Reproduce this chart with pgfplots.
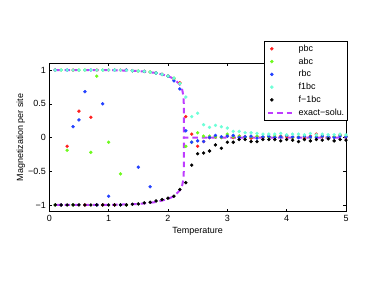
\documentclass[border=0pt]{standalone}
\usepackage{fontspec}
\setmainfont{Liberation Sans}
\usepackage{pgfplots}
\pgfplotsset{compat=1.18}
\definecolor{cpbc}{RGB}{255,30,30}
\definecolor{cabc}{RGB}{110,250,30}
\definecolor{crbc}{RGB}{35,65,255}
\definecolor{cfp}{RGB}{110,255,215}
\definecolor{cexact}{RGB}{190,60,255}
\newcommand{\fs}{\fontsize{9}{10.5}\selectfont}
\pgfplotsset{
  scat/.style={only marks, mark=*, mark size=1.5bp, color=#1,
    mark options={draw=#1, fill=#1},
    legend image code/.code={\path[draw=none,fill=none] (0cm,0cm) -- (1.06cm,0cm);
      \fill[#1] (0.22cm,0cm) circle (1.5bp);}},
  exact/.style={cexact, no marks, sharp plot, line width=2bp, dash pattern=on 5.5bp off 4bp,
    legend image code/.code={\path[draw=none,fill=none] (0cm,0cm) -- (1.06cm,0cm);
      \draw[cexact, line width=2bp, dash pattern=on 5.5bp off 4bp] (0.08cm,0cm) -- (1.06cm,0cm);}},
}
\begin{document}
\begin{tikzpicture}
\path[use as bounding box] (-49.3bp,-75.3bp) rectangle (332.7bp,211.7bp);
\begin{axis}[
  at={(0,0)}, anchor=south west,
  scale only axis, width=296.7bp, height=148.4bp,
  xmin=0, xmax=5, ymin=-1.1, ymax=1.1,
  xtick={0,1,2,3,4,5},
  ytick={-1,-0.5,0,0.5,1},
  yticklabels={−1,−0.5,0,0.5,1},
  tick align=inside, major tick length=3bp,
  tick style={black, line width=0.4pt},
  axis line style={black, line width=0.6pt},
  /pgf/number format/assume math mode=true,
  tick label style={font=\fs},
  label style={font=\fs},
  xlabel={Temperature},
  ylabel={Magnetization per site},
  xlabel style={at={(axis description cs:0.5,-0.1334)}, anchor=center},
  ylabel style={at={(axis description cs:-0.096,0.5)}, anchor=center},
  legend style={font=\fs, at={(1.005,1.15)}, anchor=north east,
    draw=black, line width=0.5pt, fill=white, row sep=0.8bp,
    inner xsep=1bp, inner ysep=1.5bp},
  legend cell align=left,
]
% pbc
\addplot[scat=cpbc] table {
0.1 1
0.2 -1
0.3 -0.13
0.4 1
0.5 0.39
0.6 -1
0.7 0.30
0.8 1
0.9 -1
1.0 1
1.1 -1
1.2 1
1.3 1
1.4 0.99
1.5 0.985
1.6 0.98
1.7 0.97
1.8 0.955
1.9 0.935
2.0 0.91
2.1 0.87
2.2 0.81
2.3 0.31
2.4 0.05
2.5 -0.13
2.6 -0.06
2.7 0.00
2.8 0.01
2.9 0.00
3.0 0.02
3.1 0.00
3.2 0.02
3.3 0.01
3.4 -0.01
3.5 0.01
3.6 0.00
3.7 0.01
3.8 0.00
3.9 0.02
4.0 0.01
4.1 0.00
4.2 0.01
4.3 -0.01
4.4 0.02
4.5 0.05
4.6 0.01
4.7 0.00
4.8 0.01
4.9 0.04
5.0 0.01
};
\addlegendentry{pbc}
% abc
\addplot[scat=cabc] table {
0.1 -1
0.2 1
0.3 -0.19
0.4 -1
0.5 1
0.6 1
0.7 -0.22
0.8 0.91
0.9 1
1.0 -0.07
1.1 1
1.2 -0.54
1.3 -1
1.4 0.99
1.5 0.985
1.6 0.98
1.7 0.97
1.8 0.955
1.9 0.935
2.0 0.91
2.1 0.88
2.2 0.80
2.3 -0.13
2.4 -0.07
2.5 0.07
2.6 0.02
2.7 0.02
2.8 0.01
2.9 0.00
3.0 0.05
3.1 0.01
3.2 0.02
3.3 0.00
3.4 0.01
3.5 0.02
3.6 0.01
3.7 0.00
3.8 0.02
3.9 0.01
4.0 0.03
4.1 0.00
4.2 0.01
4.3 0.02
4.4 0.00
4.5 0.01
4.6 0.02
4.7 0.00
4.8 0.01
4.9 0.03
5.0 0.02
};
\addlegendentry{abc}
% rbc
\addplot[scat=crbc] table {
0.1 1
0.2 -1
0.3 1
0.4 0.16
0.5 0.26
0.6 0.68
0.7 1
0.8 -1
0.9 0.50
1.0 -0.87
1.1 1
1.2 -1
1.3 1
1.4 0.99
1.5 -0.44
1.6 0.98
1.7 -0.73
1.8 0.955
1.9 0.935
2.0 0.91
2.1 0.84
2.2 0.72
2.3 0.10
2.4 -0.07
2.5 -0.05
2.6 -0.06
2.7 0.00
2.8 0.03
2.9 0.01
3.0 0.02
3.1 0.03
3.2 0.00
3.3 0.01
3.4 0.02
3.5 -0.01
3.6 0.01
3.7 0.02
3.8 0.00
3.9 0.01
4.0 0.03
4.1 0.01
4.2 0.00
4.3 0.02
4.4 0.01
4.5 0.00
4.6 0.02
4.7 0.01
4.8 0.00
4.9 0.02
5.0 0.01
};
\addlegendentry{rbc}
% f1bc
\addplot[scat=cfp] table {
0.1 1
0.2 1
0.3 1
0.4 1
0.5 1
0.6 1
0.7 1
0.8 1
0.9 1
1.0 1
1.1 1
1.2 1
1.3 0.995
1.4 0.99
1.5 0.985
1.6 0.98
1.7 0.97
1.8 0.955
1.9 0.935
2.0 0.91
2.1 0.88
2.2 0.80
2.3 0.60
2.4 0.31
2.5 0.36
2.6 0.19
2.7 0.15
2.8 0.18
2.9 0.16
3.0 0.14
3.1 0.09
3.2 0.09
3.3 0.07
3.4 0.07
3.5 0.06
3.6 0.05
3.7 0.05
3.8 0.05
3.9 0.06
4.0 0.04
4.1 0.05
4.2 0.05
4.3 0.04
4.4 0.06
4.5 0.04
4.6 0.05
4.7 0.04
4.8 0.04
4.9 0.05
5.0 0.04
};
\addlegendentry{f1bc}
% f-1bc
\addplot[scat=black] table {
0.1 -1
0.2 -1
0.3 -1
0.4 -1
0.5 -1
0.6 -1
0.7 -1
0.8 -1
0.9 -1
1.0 -1
1.1 -1
1.2 -1
1.3 -1
1.4 -0.99
1.5 -0.985
1.6 -0.97
1.7 -0.96
1.8 -0.94
1.9 -0.92
2.0 -0.90
2.1 -0.87
2.2 -0.77
2.3 -0.67
2.4 -0.41
2.5 -0.24
2.6 -0.23
2.7 -0.20
2.8 -0.11
2.9 -0.16
3.0 -0.07
3.1 -0.07
3.2 -0.03
3.3 -0.03
3.4 -0.06
3.5 -0.06
3.6 -0.03
3.7 -0.03
3.8 -0.03
3.9 -0.05
4.0 -0.03
4.1 -0.04
4.2 -0.06
4.3 -0.03
4.4 -0.05
4.5 -0.03
4.6 -0.04
4.7 -0.02
4.8 -0.05
4.9 -0.03
5.0 -0.04
};
\addlegendentry{f−1bc}
% exact solution (Onsager), upper branch and zero line
\addplot[exact] table {
0.1 1
1.0 0.9993
1.5 0.9865
1.8 0.9569
2.0 0.9113
2.1 0.8688
2.2 0.7848
2.24 0.7073
2.26 0.6134
2.268 0.474
2.269 0
5.0 0
};
\addlegendentry{exact−solu.}
% lower branch
\addplot[exact, forget plot] table {
0.1 -1
1.0 -0.9993
1.5 -0.9865
1.8 -0.9569
2.0 -0.9113
2.1 -0.8688
2.2 -0.7848
2.24 -0.7073
2.26 -0.6134
2.268 -0.474
2.269 0
};
\end{axis}
\end{tikzpicture}
\end{document}
